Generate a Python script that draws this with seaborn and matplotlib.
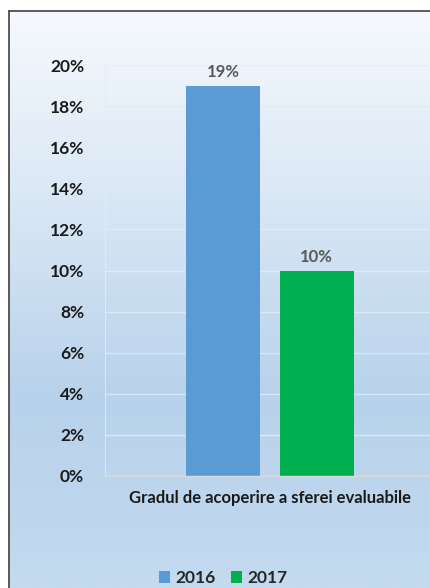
import numpy as np
import pandas as pd
import matplotlib
matplotlib.use("Agg")
import matplotlib.pyplot as plt
from matplotlib.colors import LinearSegmentedColormap
import seaborn as sns

categories = ["Gradul de acoperire a sferei evaluabile"]
years = ["2016", "2017"]
values = [19, 10]
colors = ["#5b9bd5", "#00b050"]
yticks = [0, 2, 4, 6, 8, 10, 12, 14, 16, 18, 20]

df = pd.DataFrame({
    "cat": categories * len(years),
    "year": years,
    "val": values,
})

sns.set_theme(style="white")
plt.rcParams["font.family"] = ["Lato", "DejaVu Sans"]

W, H = 431, 588
fig = plt.figure(figsize=(W / 100, H / 100), dpi=100)

# gradient panel behind the chart, framed on the top and left
bg = fig.add_axes([0, 0, 1, 1], zorder=0)
bg.set_axis_off()
grad = np.linspace(0, 1, 256).reshape(-1, 1)
cmap = LinearSegmentedColormap.from_list("bg", ["#f6f9fd", "#d9e7f5", "#b8d2eb", "#c3daef"])
x0, y0 = 9 / W, 0
y1 = (H - 11) / H
bg.imshow(grad, aspect="auto", cmap=cmap, extent=[x0, 1, y0, y1], origin="upper")
bg.set_xlim(0, 1)
bg.set_ylim(0, 1)
bg.plot([x0, x0], [0, y1], color="#404040", lw=1.2)
bg.plot([x0, 1], [y1, y1], color="#404040", lw=1.2)

ax = fig.add_axes([105 / W, (H - 476) / H, 330 / W, (476 - 65) / H], zorder=1)
ax.patch.set_alpha(0)

sns.barplot(data=df, x="cat", y="val", hue="year", palette=colors,
            width=0.567, gap=0.21, ax=ax, legend=True, saturation=1,
            edgecolor="none", linewidth=0)

ax.set_xlim(-0.5, 0.5)
ax.set_ylim(0, 20)
ax.set_yticks(yticks)
ax.set_yticklabels([f"{t}%" for t in yticks], fontsize=12.5, fontweight="bold", color="#1a1a1a")
ax.tick_params(axis="y", length=0, pad=15)
ax.tick_params(axis="x", length=0, pad=10)
for lbl in ax.get_xticklabels():
    lbl.set_fontsize(12)
    lbl.set_fontweight("bold")
    lbl.set_color("#1a1a1a")
ax.set_xlabel("")
ax.set_ylabel("")
ax.grid(axis="y", color="#e3edf7", lw=1, alpha=0.8)
ax.set_axisbelow(True)
for s in ["top", "right"]:
    ax.spines[s].set_visible(False)
ax.spines["left"].set_color("#e3edf7")
ax.spines["left"].set_linewidth(0.6)
ax.spines["bottom"].set_color("#d9d9d9")
ax.spines["bottom"].set_linewidth(1)

for container in ax.containers:
    ax.bar_label(container, labels=[f"{v:.0f}%" for v in container.datavalues],
                 padding=4, fontsize=12, fontweight="bold", color="#595959")

handles, labels = ax.get_legend_handles_labels()
ax.legend_.remove()
fig.legend(handles, labels, loc="center", bbox_to_anchor=(223 / W, (H - 578) / H),
           ncol=2, frameon=False, handlelength=0.65, handleheight=0.65,
           handletextpad=0.3, columnspacing=0.9,
           prop={"weight": "bold", "size": 12.5})

fig.savefig("out.png", dpi=100)
